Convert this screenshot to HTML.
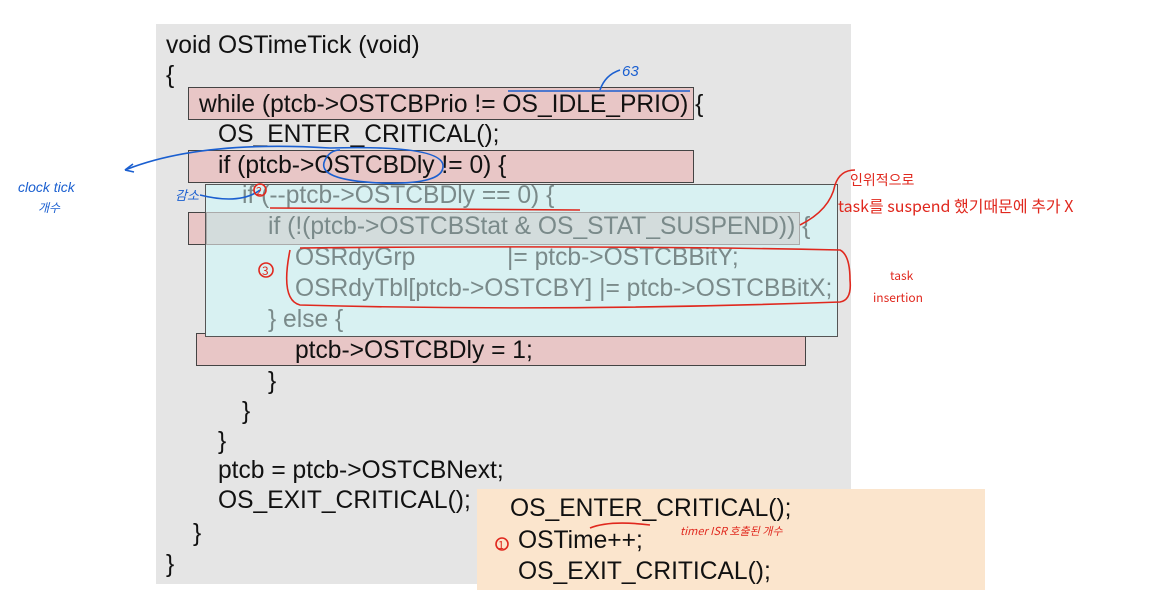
<!DOCTYPE html>
<html><head><meta charset="utf-8"><style>
body{margin:0;width:1170px;height:602px;background:#fff;position:relative;overflow:hidden;font-family:"Liberation Sans","Noto Sans CJK KR",sans-serif}
.a{position:absolute}
.t{position:absolute;font-size:24.6px;line-height:30px;white-space:pre;color:#111;letter-spacing:0}
.g{color:#7a8a8a}
.box{position:absolute;box-sizing:border-box}
</style></head><body>
<div class="box" style="left:156px;top:24px;width:695px;height:560px;background:#e5e5e5"></div>
<div class="box" style="left:188px;top:87px;width:506px;height:33px;background:#e8c6c6;border:1px solid #444"></div>
<div class="box" style="left:188px;top:150px;width:506px;height:33px;background:#e8c6c6;border:1px solid #444"></div>
<div class="box" style="left:188px;top:212px;width:30px;height:33px;background:#e8c6c6;border:1px solid #444"></div>
<div class="box" style="left:196px;top:333px;width:610px;height:33px;background:#e8c6c6;border:1px solid #444"></div>
<div class="box" style="left:205px;top:184px;width:633px;height:153px;background:#d8f1f2;border:1px solid #555"></div>
<div class="box" style="left:206px;top:212px;width:594px;height:33px;background:#d3dcdc;border:1px solid #aaa"></div>
<div class="box" style="left:477px;top:489px;width:508px;height:101px;background:#fbe5cd"></div>

<div class="t" style="left:166px;top:31px">void OSTimeTick (void)</div>
<div class="t" style="left:166px;top:61px">{</div>
<div class="t" style="left:199px;top:90px">while (ptcb-&gt;OSTCBPrio != OS_IDLE_PRIO) {</div>
<div class="t" style="left:218px;top:120px">OS_ENTER_CRITICAL();</div>
<div class="t" style="left:218px;top:151px">if (ptcb-&gt;OSTCBDly != 0) {</div>
<div class="t g" style="left:242px;top:181px">if (--ptcb-&gt;OSTCBDly == 0) {</div>
<div class="t g" style="left:268px;top:212px">if (!(ptcb-&gt;OSTCBStat &amp; OS_STAT_SUSPEND)) {</div>
<div class="t g" style="left:295px;top:243px">OSRdyGrp</div>
<div class="t g" style="left:507px;top:243px">|= ptcb-&gt;OSTCBBitY;</div>
<div class="t g" style="left:295px;top:274px">OSRdyTbl[ptcb-&gt;OSTCBY] |= ptcb-&gt;OSTCBBitX;</div>
<div class="t g" style="left:268px;top:305px">} else {</div>
<div class="t" style="left:295px;top:336px">ptcb-&gt;OSTCBDly = 1;</div>
<div class="t" style="left:268px;top:367px">}</div>
<div class="t" style="left:242px;top:397px">}</div>
<div class="t" style="left:218px;top:427px">}</div>
<div class="t" style="left:218px;top:456px">ptcb = ptcb-&gt;OSTCBNext;</div>
<div class="t" style="left:218px;top:486px">OS_EXIT_CRITICAL();</div>
<div class="t" style="left:193px;top:519px">}</div>
<div class="t" style="left:166px;top:550px">}</div>
<div class="t" style="left:510px;top:494px">OS_ENTER_CRITICAL();</div>
<div class="t" style="left:518px;top:526px">OSTime++;</div>
<div class="t" style="left:518px;top:557px">OS_EXIT_CRITICAL();</div>

<svg class="a" style="left:0;top:0" width="1170" height="602" fill="none" stroke-width="1.6">
<g stroke="#1a5fd0">
<path d="M508 91 L690 91"/><path d="M600 90 Q605 75 620 70"/>
<path d="M125 170 Q200 140 330 148"/>
<path d="M330 148 Q440 145 443 165 Q445 185 380 183 Q315 180 325 160 Q330 150 340 150"/>
<path d="M125 170 l8 -6 M125 170 l9 2"/>
<path d="M200 195 Q240 205 260 190"/>
</g>
<g fill="#1a5fd0" stroke="none" font-family="Liberation Sans,Noto Sans CJK KR,sans-serif" font-style="italic">
<text x="622" y="76" font-size="15">63</text>
<text x="18" y="192" font-size="14">clock tick</text>
<text x="38" y="212" font-size="12">개수</text>
<text x="175" y="200" font-size="13">감소</text>
</g>
<g stroke="#e0281e">
<path d="M270 208 L580 210"/>
<circle cx="260" cy="190" r="6"/><circle cx="266" cy="270" r="7"/><circle cx="502" cy="544" r="6"/>
<path d="M290 250 Q280 300 300 305 Q560 312 840 302 Q852 300 850 280 Q850 255 840 250 Q600 245 300 248"/>
<path d="M800 225 Q830 210 835 185 Q840 170 855 170"/>
<path d="M590 528 Q610 520 650 525"/>
</g>
<g fill="#e0281e" stroke="none" font-family="Noto Sans CJK KR,sans-serif">
<text x="850" y="185" font-size="14">인위적으로</text>
<text x="838" y="212" font-size="16">task를 suspend 했기때문에 추가 X</text>
<text x="890" y="280" font-size="12">task</text>
<text x="873" y="302" font-size="12">insertion</text>
<text x="680" y="535" font-size="11" font-style="italic">timer ISR 호출된 개수</text>
<text x="256" y="195" font-size="11">2</text><text x="262" y="275" font-size="12">3</text><text x="498" y="549" font-size="11">1</text>
</g>
</svg>
</body></html>
